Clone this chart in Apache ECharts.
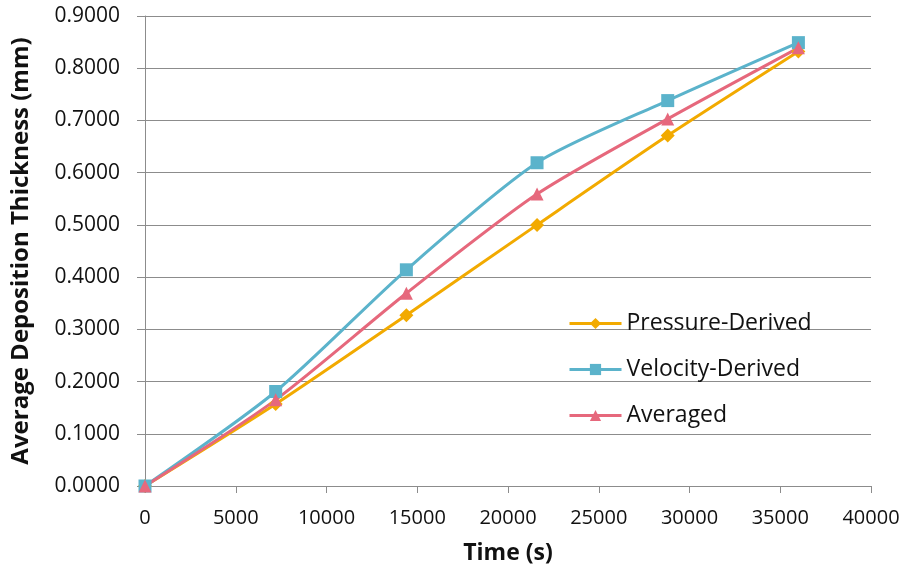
<!DOCTYPE html>
<html>
<head>
<meta charset="utf-8">
<script src="https://cdn.jsdelivr.net/npm/echarts@6/dist/echarts.min.js"></script>
<style>
  html, body { margin: 0; padding: 0; background: #fff; }
  #chart { width: 907px; height: 573px; }
</style>
</head>
<body>
<div id="chart"></div>
<script>
// time in seconds
var times = [0, 7200, 14400, 21600, 28800, 36000];
var pressureDerived = [0, 0.157, 0.327, 0.500, 0.671, 0.832];
var velocityDerived = [0, 0.181, 0.414, 0.619, 0.738, 0.849];
var averaged = [0, 0.165, 0.369, 0.559, 0.703, 0.839];

var seriesNames = ['Pressure-Derived', 'Velocity-Derived', 'Averaged'];
var seriesColors = ['#F2AA00', '#5BB3CB', '#E6687C'];
var seriesSymbols = ['diamond', 'rect', 'triangle'];
var seriesValues = [pressureDerived, velocityDerived, averaged];

var font = 'Open Sans';

function pairs(xs, ys) {
  var out = [];
  for (var i = 0; i < xs.length; i++) {
    out.push([xs[i], ys[i]]);
  }
  return out;
}

var series = [];
for (var i = 0; i < seriesNames.length; i++) {
  series.push({
    name: seriesNames[i],
    type: 'line',
    smooth: 0.25,
    data: pairs(times, seriesValues[i]),
    symbol: seriesSymbols[i],
    symbolSize: seriesSymbols[i] === 'diamond' ? 14 : 13,
    showAllSymbol: true,
    lineStyle: { color: seriesColors[i], width: 3 },
    itemStyle: { color: seriesColors[i] }
  });
}

var chart = echarts.init(document.getElementById('chart'));
chart.setOption({
  animation: false,
  textStyle: { fontFamily: font },
  grid: { left: 145, right: 36, top: 16, bottom: 87, containLabel: false },
  legend: {
    orient: 'vertical',
    left: 563,
    top: 307,
    itemWidth: 52,
    itemHeight: 14,
    itemGap: 23,
    lineStyle: { width: 3 },
    textStyle: { fontFamily: font, fontSize: 23, color: '#111' },
    data: seriesNames
  },
  xAxis: {
    type: 'value',
    min: 0,
    max: 40000,
    interval: 5000,
    name: 'Time (s)',
    nameLocation: 'middle',
    nameGap: 56,
    nameTextStyle: { fontFamily: font, fontSize: 23, fontWeight: 'bold', color: '#111' },
    axisLine: { show: true, lineStyle: { color: '#8c8c8c', width: 1 } },
    axisTick: { show: true, length: 7, lineStyle: { color: '#8c8c8c' } },
    axisLabel: {
      margin: 22,
      fontSize: 20,
      color: '#111',
      fontFamily: font,
      formatter: function (v) { return String(v); }
    },
    splitLine: { show: false }
  },
  yAxis: {
    type: 'value',
    min: 0,
    max: 0.9,
    interval: 0.1,
    name: 'Average Deposition Thickness (mm)',
    nameLocation: 'middle',
    nameGap: 112,
    nameTextStyle: { fontFamily: font, fontSize: 24, fontWeight: 'bold', color: '#111' },
    axisLine: { show: true, lineStyle: { color: '#8c8c8c', width: 1 } },
    axisTick: { show: true, length: 8, lineStyle: { color: '#8c8c8c' } },
    axisLabel: {
      margin: 25,
      fontSize: 21,
      color: '#111',
      fontFamily: font,
      formatter: function (v) { return v.toFixed(4); }
    },
    splitLine: { show: true, lineStyle: { color: '#8c8c8c', width: 1 } }
  },
  series: series
});
</script>
</body>
</html>
